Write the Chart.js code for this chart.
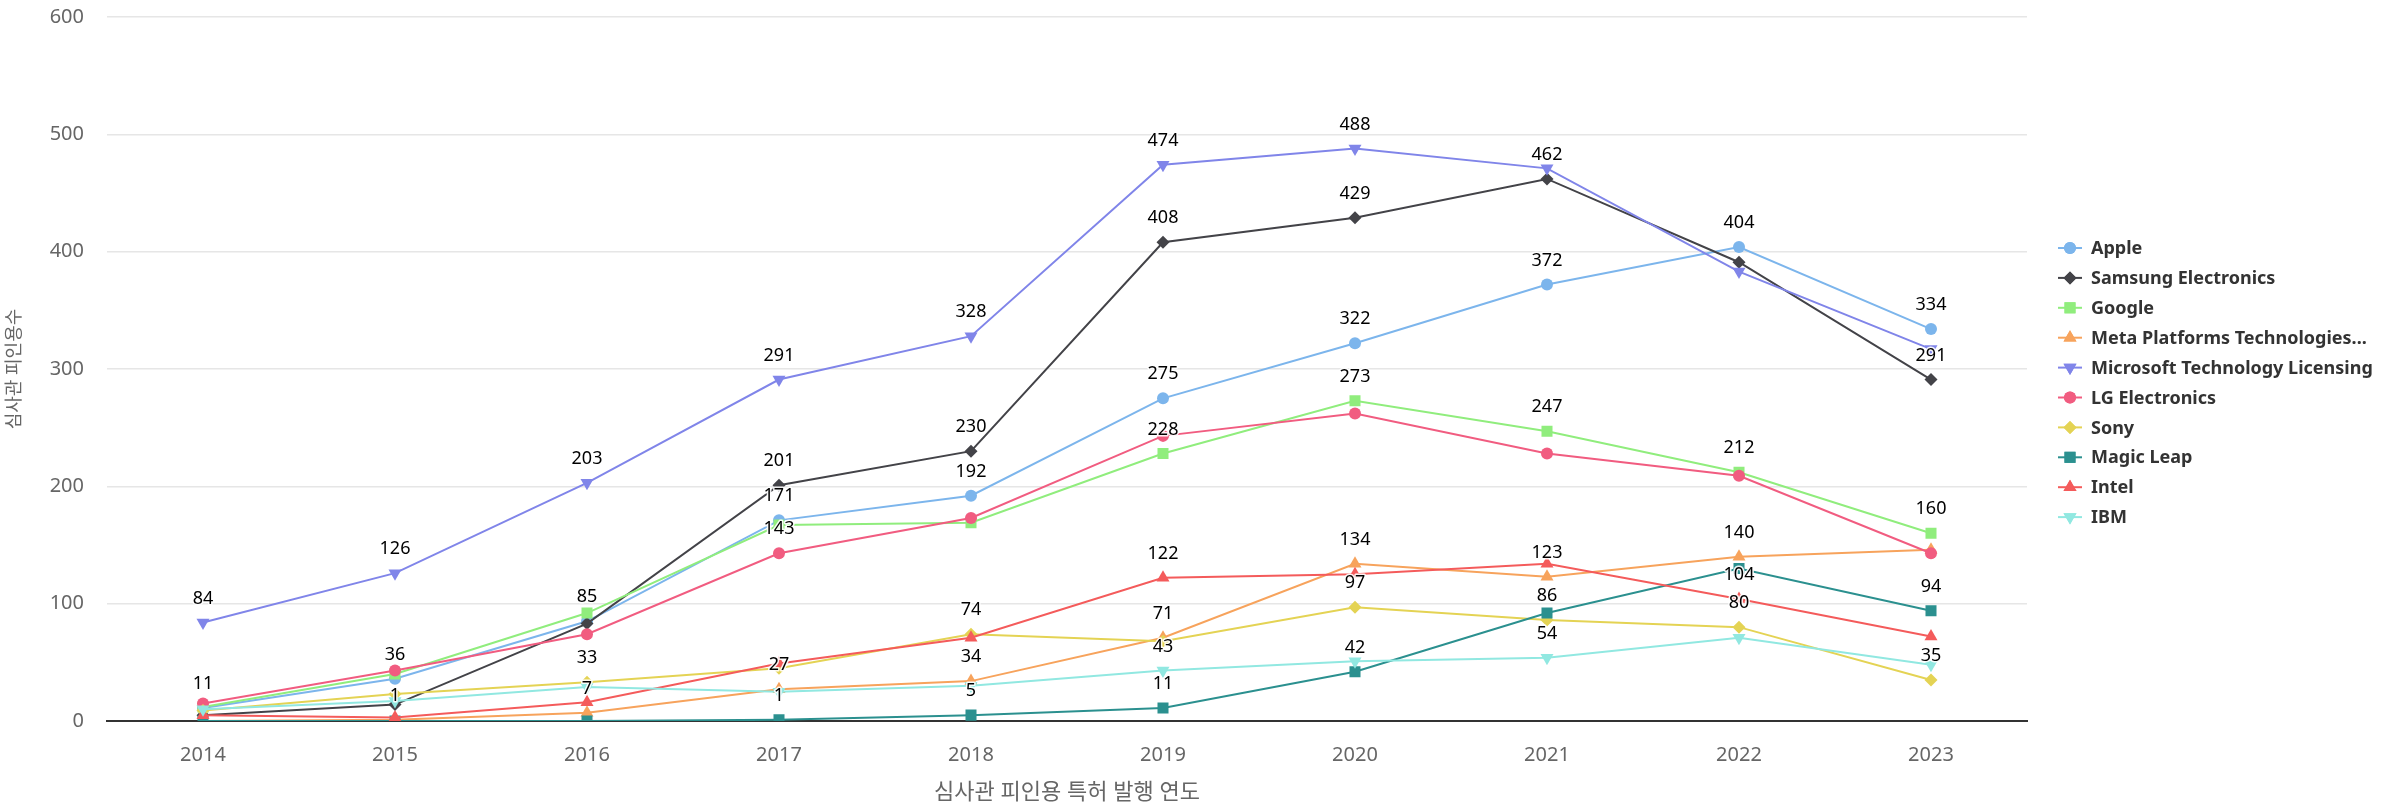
<!DOCTYPE html>
<html>
<head>
<meta charset="utf-8">
<script src="https://cdn.jsdelivr.net/npm/chart.js@4.4.1/dist/chart.umd.min.js"></script>
<style>
  html, body { margin: 0; padding: 0; background: #ffffff; }
  #wrap { width: 2386px; height: 812px; }
</style>
</head>
<body>
<div id="wrap"><canvas id="c" width="2386" height="812"></canvas></div>
<script>
// ---------- data ----------
const years = ['2014','2015','2016','2017','2018','2019','2020','2021','2022','2023'];
const yTicks = [0, 100, 200, 300, 400, 500, 600];

const seriesNames = ['Apple','Samsung Electronics','Google','Meta Platforms Technologies...','Microsoft Technology Licensing','LG Electronics','Sony','Magic Leap','Intel','IBM'];

const apple     = [11, 36, 85, 171, 192, 275, 322, 372, 404, 334];
const samsung   = [5, 14, 83, 201, 230, 408, 429, 462, 391, 291];
const google    = [12, 40, 92, 167, 169, 228, 273, 247, 212, 160];
const meta      = [0, 1, 7, 27, 34, 71, 134, 123, 140, 146];
const microsoft = [84, 126, 203, 291, 328, 474, 488, 471, 383, 317];
const lg        = [15, 43, 74, 143, 173, 243, 262, 228, 209, 143];
const sony      = [9, 23, 33, 45, 74, 68, 97, 86, 80, 35];
const magicLeap = [0, 0, 0, 1, 5, 11, 42, 92, 130, 94];
const intel     = [5, 3, 16, 49, 71, 122, 125, 134, 104, 72];
const ibm       = [10, 17, 29, 25, 30, 43, 51, 54, 71, 48];

const seriesValues = [apple, samsung, google, meta, microsoft, lg, sony, magicLeap, intel, ibm];

// ---------- styles ----------
const colors = ['#7cb5ec','#434348','#90ed7d','#f7a35c','#8085e9','#f15c80','#e4d354','#2b908f','#f45b5b','#91e8e1'];
const styles = [
  {s:'circle', r:6, rot:0},
  {s:'rectRot', r:6.5, rot:0},
  {s:'rect', r:7.8, rot:0},
  {s:'triangle', r:7.5, rot:0},
  {s:'triangle', r:7.5, rot:180},
  {s:'circle', r:6, rot:0},
  {s:'rectRot', r:6.5, rot:0},
  {s:'rect', r:7.8, rot:0},
  {s:'triangle', r:7.5, rot:0},
  {s:'triangle', r:7.5, rot:180}
];

const FONT_AXIS = '"Noto Sans", "Noto Sans CJK KR", sans-serif';

const datasets = seriesNames.map((name, i) => ({
  label: name,
  data: seriesValues[i],
  borderColor: colors[i],
  backgroundColor: colors[i],
  pointBackgroundColor: colors[i],
  pointBorderColor: colors[i],
  pointBorderWidth: 0,
  pointStyle: styles[i].s,
  pointRadius: styles[i].r,
  pointRotation: styles[i].rot,
  borderWidth: 2,
  tension: 0,
  fill: false,
  order: -i
}));

function drawMarker(ctx, st, color, x, y) {
  ctx.save();
  ctx.fillStyle = color;
  ctx.strokeStyle = color;
  ctx.lineWidth = 0;
  if (Chart.helpers && Chart.helpers.drawPoint) {
    Chart.helpers.drawPoint(ctx, {pointStyle: st.s, rotation: st.rot, radius: st.r, borderWidth: 0}, x, y);
    ctx.fill();
  } else {
    ctx.beginPath(); ctx.arc(x, y, st.r, 0, Math.PI*2); ctx.fill();
  }
  ctx.restore();
}

// Data labels with overlap hiding (earlier series win)
const dataLabelPlugin = {
  id: 'dataLabels',
  afterDatasetsDraw(chart) {
    const ctx = chart.ctx;
    ctx.save();
    ctx.font = '18px "Noto Sans", sans-serif';
    ctx.textAlign = 'center';
    ctx.textBaseline = 'middle';
    const placed = [];
    const H = 27.6, OFF = 24;
    chart.data.datasets.forEach((ds, di) => {
      const meta = chart.getDatasetMeta(di);
      meta.data.forEach((pt, i) => {
        const txt = String(ds.data[i]);
        const w = ctx.measureText(txt).width + 10;
        const box = {x: pt.x - w/2, y: pt.y - OFF - H/2, w: w, h: H};
        const hit = placed.some(b => b.x < box.x + box.w && box.x < b.x + b.w && b.y < box.y + box.h && box.y < b.y + b.h);
        if (hit) return;
        placed.push(box);
        const ty = pt.y - OFF;
        ctx.lineWidth = 3;
        ctx.strokeStyle = 'rgba(255,255,255,0.9)';
        ctx.lineJoin = 'round';
        ctx.strokeText(txt, pt.x, ty);
        ctx.fillStyle = '#000000';
        ctx.fillText(txt, pt.x, ty);
      });
    });
    ctx.restore();
  }
};

// Custom legend: line + marker + label, vertical on the right
const legendPlugin = {
  id: 'customLegend',
  afterDraw(chart) {
    const ctx = chart.ctx;
    ctx.save();
    ctx.font = 'bold 18px "Noto Sans", sans-serif';
    ctx.textAlign = 'left';
    ctx.textBaseline = 'middle';
    const x0 = 2058, x1 = 2082, tx = 2091, y0 = 248, dy = 29.9;
    chart.data.datasets.forEach((ds, i) => {
      const y = y0 + i * dy;
      ctx.strokeStyle = colors[i];
      ctx.lineWidth = 2;
      ctx.beginPath(); ctx.moveTo(x0, y); ctx.lineTo(x1, y); ctx.stroke();
      drawMarker(ctx, styles[i], colors[i], (x0 + x1) / 2, y);
      ctx.fillStyle = '#333333';
      ctx.fillText(ds.label, tx, y + 1);
    });
    ctx.restore();
  }
};

new Chart(document.getElementById('c'), {
  type: 'line',
  data: { labels: years, datasets: datasets },
  options: {
    responsive: false,
    animation: false,
    events: [],
    devicePixelRatio: 1,
    layout: { padding: { left: 0, right: 359, top: 17, bottom: 0 } },
    plugins: {
      legend: { display: false },
      tooltip: { enabled: false }
    },
    scales: {
      x: {
        type: 'category',
        offset: true,
        grid: { display: false, drawTicks: false },
        border: { display: true, color: '#333333', width: 2 },
        ticks: { color: '#666666', font: { family: FONT_AXIS, size: 20 }, padding: 22, maxRotation: 0 },
        title: { display: true, text: '심사관 피인용 특허 발행 연도', color: '#666666', font: { family: FONT_AXIS, size: 22 }, padding: { top: 4, bottom: 6 } },
        afterFit(s) { s.height = 91; s.paddingLeft = 0; s.paddingRight = 0; }
      },
      y: {
        min: 0, max: 600,
        afterBuildTicks(s) { s.ticks = yTicks.map(v => ({ value: v })); },
        grid: { color: '#e6e6e6', lineWidth: 1.5, drawTicks: false },
        border: { display: false },
        ticks: { color: '#666666', font: { family: FONT_AXIS, size: 20 }, padding: 23 },
        title: { display: true, text: '심사관 피인용수', color: '#666666', font: { family: FONT_AXIS, size: 18 }, padding: { top: 4, bottom: 4 } },
        afterFit(s) { s.width = 107; s.paddingTop = 0; s.paddingBottom = 0; }
      }
    }
  },
  plugins: [dataLabelPlugin, legendPlugin]
});
</script>
</body>
</html>
